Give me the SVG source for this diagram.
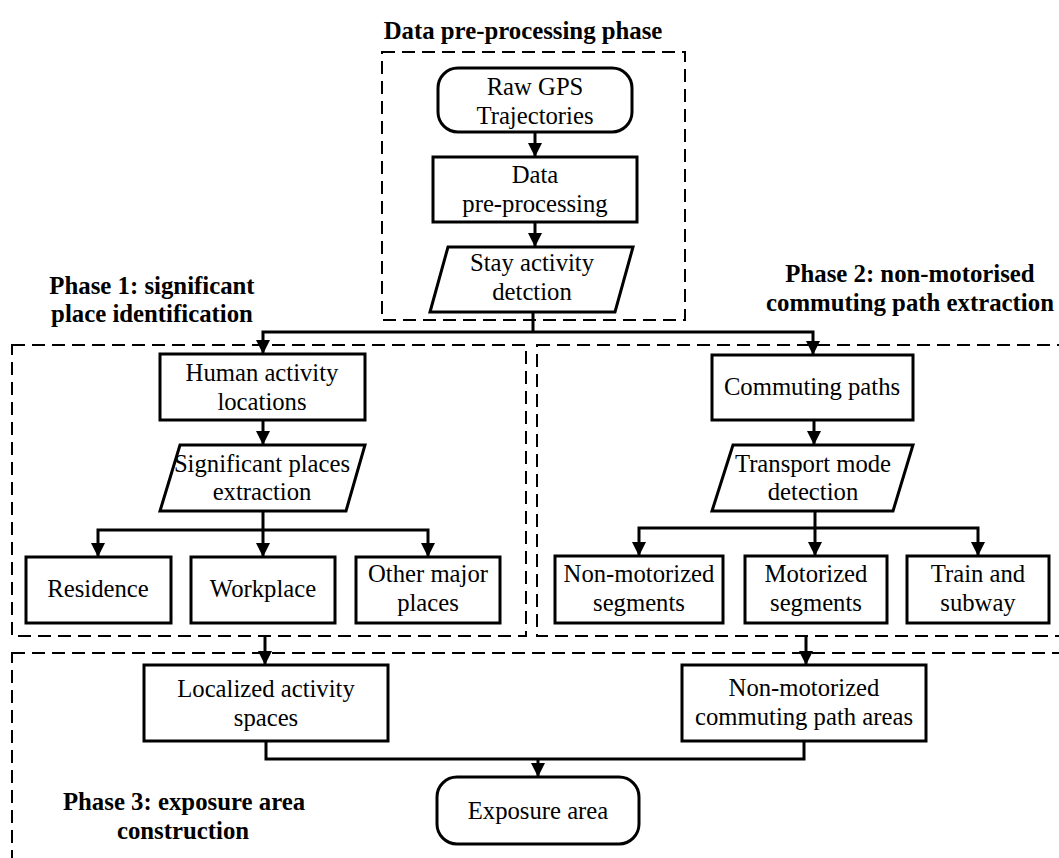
<svg xmlns="http://www.w3.org/2000/svg" width="1059" height="858" viewBox="0 0 1059 858">
<style>
  .bg { fill: #ffffff; }
  .phase { fill: none; stroke: #000; stroke-width: 2; stroke-dasharray: 13 7; }
  .box { fill: #fff; stroke: #000; stroke-width: 3; }
  .conn { fill: none; stroke: #000; stroke-width: 3; }
  .t { font-family: "Liberation Serif", "Times New Roman", serif; font-size: 24.7px; fill: #000; text-anchor: middle; }
  .lbl { font-family: "Liberation Serif", "Times New Roman", serif; font-size: 24.8px; font-weight: bold; fill: #000; text-anchor: middle; }
</style>
<defs>
  <marker id="arrow" viewBox="0 0 14 14" refX="14" refY="7" markerWidth="14" markerHeight="14" markerUnits="userSpaceOnUse" orient="auto">
    <path d="M0,0 L14,7 L0,14 z" fill="#000"/>
  </marker>
</defs>
<rect class="bg" x="0" y="0" width="1059" height="858"/>

<g id="phase-boxes">
  <rect id="phase0-box" class="phase" x="382" y="52" width="303" height="268"/>
  <rect id="phase1-box" class="phase" x="12" y="345" width="514" height="291"/>
  <rect id="phase2-box" class="phase" x="537" y="345" width="540" height="291"/>
  <rect id="phase3-box" class="phase" x="12" y="653" width="1065" height="220"/>
</g>

<g id="phase-labels">
  <text class="lbl" x="523" y="39">Data pre-processing phase</text>
  <text class="lbl" x="152" y="294">Phase 1: significant</text>
  <text class="lbl" x="152" y="322">place identification</text>
  <text class="lbl" x="910" y="282">Phase 2: non-motorised</text>
  <text class="lbl" x="910" y="311">commuting path extraction</text>
  <text class="lbl" x="184" y="810">Phase 3: exposure area</text>
  <text class="lbl" x="183" y="839">construction</text>
</g>

<g id="connectors">
  <path class="conn" d="M535,132 L535,157" marker-end="url(#arrow)"/>
  <path class="conn" d="M535,222 L535,247" marker-end="url(#arrow)"/>
  <path class="conn" d="M533,312 L533,332"/>
  <path class="conn" d="M533,332 L263,332 L263,354" marker-end="url(#arrow)"/>
  <path class="conn" d="M533,332 L813,332 L813,355" marker-end="url(#arrow)"/>
  <path class="conn" d="M263,420 L263,445" marker-end="url(#arrow)"/>
  <path class="conn" d="M263,511 L263,557" marker-end="url(#arrow)"/>
  <path class="conn" d="M263,530 L98,530 L98,557" marker-end="url(#arrow)"/>
  <path class="conn" d="M263,530 L428,530 L428,557" marker-end="url(#arrow)"/>
  <path class="conn" d="M814,420 L814,445" marker-end="url(#arrow)"/>
  <path class="conn" d="M815,511 L815,556" marker-end="url(#arrow)"/>
  <path class="conn" d="M815,528 L639,528 L639,556" marker-end="url(#arrow)"/>
  <path class="conn" d="M815,528 L978,528 L978,556" marker-end="url(#arrow)"/>
  <path class="conn" d="M265,636 L265,665" marker-end="url(#arrow)"/>
  <path class="conn" d="M806,636 L806,665" marker-end="url(#arrow)"/>
  <path class="conn" d="M266,741 L266,759 L804,759 L804,741"/>
  <path class="conn" d="M538,759 L538,777" marker-end="url(#arrow)"/>
</g>

<g id="node-raw-gps">
  <rect class="box" x="438" y="68" width="194" height="64" rx="20" ry="20"/>
  <text class="t" x="535" y="95">Raw GPS</text>
  <text class="t" x="535" y="124">Trajectories</text>
</g>
<g id="node-data-preprocessing">
  <rect class="box" x="433" y="157" width="204" height="65"/>
  <text class="t" x="535" y="183">Data</text>
  <text class="t" x="535" y="212">pre-processing</text>
</g>
<g id="node-stay-activity">
  <polygon class="box" points="448,247 633,247 615,312 430,312"/>
  <text class="t" x="532" y="271">Stay activity</text>
  <text class="t" x="532" y="300">detction</text>
</g>

<g id="node-human-activity">
  <rect class="box" x="160" y="354" width="205" height="66"/>
  <text class="t" x="262" y="381">Human activity</text>
  <text class="t" x="262" y="410">locations</text>
</g>
<g id="node-significant-places">
  <polygon class="box" points="180,445 365,445 346,511 160,511"/>
  <text class="t" x="262" y="472">Significant places</text>
  <text class="t" x="262" y="500">extraction</text>
</g>
<g id="node-residence">
  <rect class="box" x="26" y="557" width="145" height="66"/>
  <text class="t" x="98" y="597">Residence</text>
</g>
<g id="node-workplace">
  <rect class="box" x="191" y="557" width="144" height="66"/>
  <text class="t" x="263" y="597">Workplace</text>
</g>
<g id="node-other-major">
  <rect class="box" x="356" y="557" width="144" height="66"/>
  <text class="t" x="428" y="582">Other major</text>
  <text class="t" x="428" y="611">places</text>
</g>

<g id="node-commuting-paths">
  <rect class="box" x="712" y="355" width="201" height="65"/>
  <text class="t" x="812" y="395">Commuting paths</text>
</g>
<g id="node-transport-mode">
  <polygon class="box" points="733,445 913,445 893,511 712,511"/>
  <text class="t" x="813" y="472">Transport mode</text>
  <text class="t" x="813" y="500">detection</text>
</g>
<g id="node-non-motorized-segments">
  <rect class="box" x="555" y="556" width="168" height="67"/>
  <text class="t" x="639" y="582">Non-motorized</text>
  <text class="t" x="639" y="611">segments</text>
</g>
<g id="node-motorized-segments">
  <rect class="box" x="745" y="556" width="142" height="67"/>
  <text class="t" x="816" y="582">Motorized</text>
  <text class="t" x="816" y="611">segments</text>
</g>
<g id="node-train-subway">
  <rect class="box" x="907" y="556" width="142" height="67"/>
  <text class="t" x="978" y="582">Train and</text>
  <text class="t" x="978" y="611">subway</text>
</g>

<g id="node-localized-activity">
  <rect class="box" x="144" y="665" width="244" height="76"/>
  <text class="t" x="266" y="697">Localized activity</text>
  <text class="t" x="266" y="726">spaces</text>
</g>
<g id="node-non-motorized-areas">
  <rect class="box" x="682" y="665" width="244" height="76"/>
  <text class="t" x="804" y="696">Non-motorized</text>
  <text class="t" x="804" y="725">commuting path areas</text>
</g>
<g id="node-exposure-area">
  <rect class="box" x="437" y="777" width="202" height="67" rx="20" ry="20"/>
  <text class="t" x="538" y="819">Exposure area</text>
</g>
</svg>
